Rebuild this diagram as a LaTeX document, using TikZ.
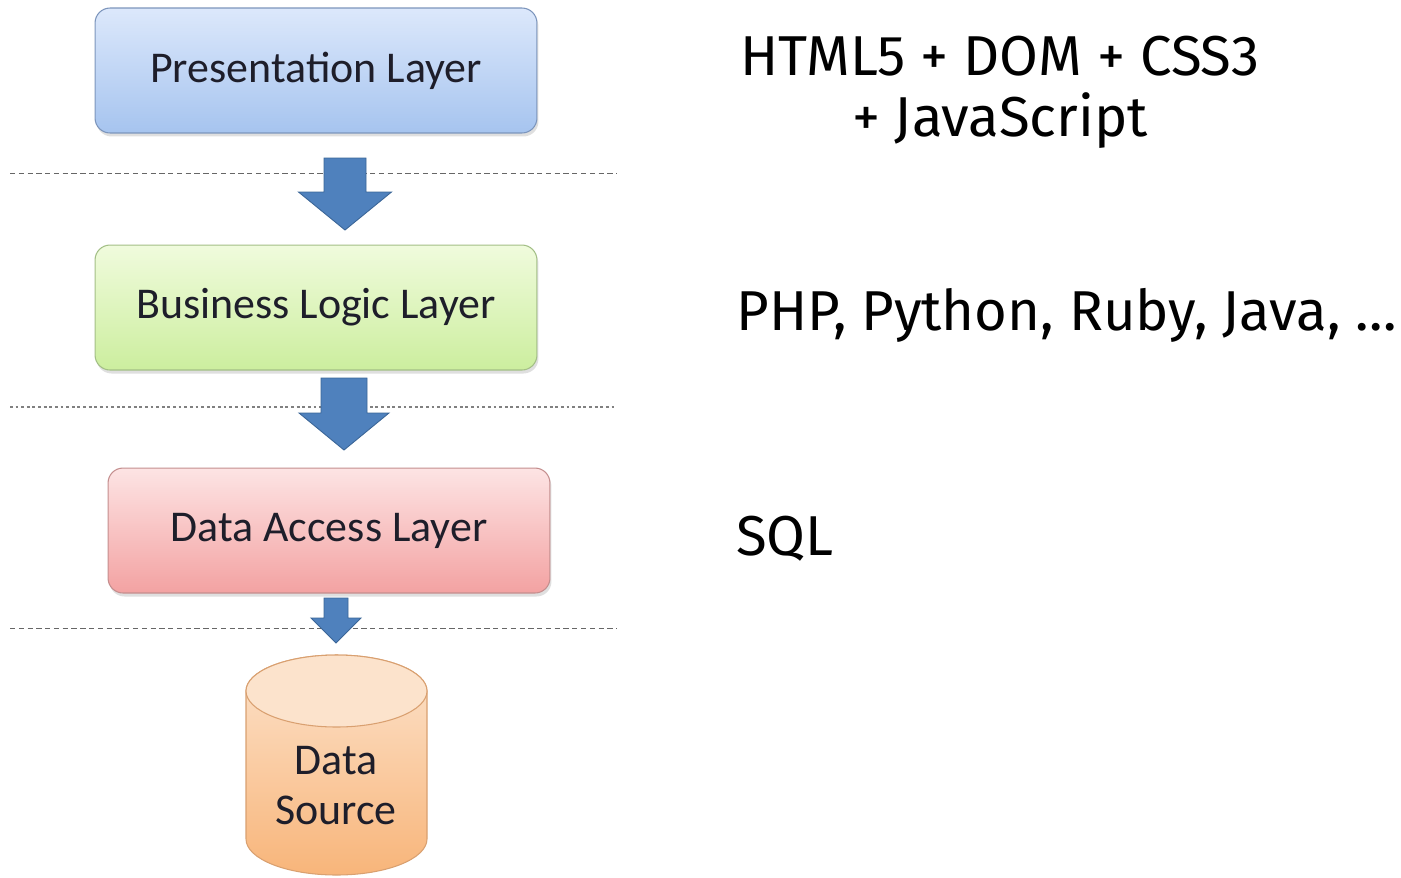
\documentclass[tikz,border=0pt]{standalone}
\usepackage{fontspec}
\setmainfont{Fira Sans}
\newfontfamily\boxfont{Carlito}
\usepackage{tikz}
\usetikzlibrary{positioning,shadows}

\definecolor{arrowblue}{HTML}{4F81BD}
\definecolor{arrowedge}{HTML}{3A6597}
\definecolor{boxtext}{HTML}{1E1E2A}
\definecolor{prestop}{HTML}{DCE8FB}
\definecolor{presbot}{HTML}{A6C4EF}
\definecolor{presedge}{HTML}{7C95BC}
\definecolor{biztop}{HTML}{F0FBDD}
\definecolor{bizbot}{HTML}{CCEE9E}
\definecolor{bizedge}{HTML}{A3BF86}
\definecolor{daltop}{HTML}{FDE4E4}
\definecolor{dalbot}{HTML}{F3A2A2}
\definecolor{daledge}{HTML}{C48E8E}
\definecolor{dstop}{HTML}{FCE3CC}
\definecolor{dsbot}{HTML}{F8B57A}
\definecolor{dsedge}{HTML}{D9A070}

\tikzset{
  layer/.style={rounded corners=0.3cm, minimum width=8.84cm, minimum height=2.5cm,
    font=\boxfont\fontsize{25}{30}\selectfont, text=boxtext, line width=0.6pt,
    drop shadow={opacity=0.25, shadow xshift=0.03cm, shadow yshift=-0.07cm}},
  presbox/.style={layer, draw=presedge, top color=prestop, bottom color=presbot},
  bizbox/.style={layer, draw=bizedge, top color=biztop, bottom color=bizbot},
  databox/.style={layer, draw=daledge, top color=daltop, bottom color=dalbot},
  tier/.style={draw=black!60, line width=0.5pt, dash pattern=on 3pt off 2pt},
  tierdot/.style={draw=black!50, line width=0.6pt, dash pattern=on 1.6pt off 1.6pt},
  bigarrow/.style={fill=arrowblue, draw=arrowedge, line width=0.5pt, line join=miter},
  tech/.style={font=\fontsize{32}{34.7}\selectfont, inner sep=0pt}
}

% x, shaft top, head base, tip, shaft half width, head half width (px)
\newcommand{\blockarrow}[6]{%
  \draw[bigarrow] (#1-#5,-#2) -- (#1+#5,-#2) -- (#1+#5,-#3) -- (#1+#6,-#3)
    -- (#1,-#4) -- (#1-#6,-#3) -- (#1-#5,-#3) -- cycle;}

\begin{document}
\begin{tikzpicture}[x=0.02cm,y=0.02cm]
  \useasboundingbox (0,0) rectangle (1401,-877);

  % tiers
  \node[presbox]                              (pres) at (316,-70.5) {Presentation Layer};
  \node[bizbox]    [below=2.22cm of pres]     (biz)  {Business Logic Layer};
  \node[databox]   [below=1.94cm of biz, xshift=0.26cm] (dal) {Data Access Layer};

  % separators
  \draw[tier]    (10,-173) -- (617,-173);
  \draw[tierdot] (10,-407) -- (617,-407);
  \draw[tier]    (10,-628) -- (617,-628);

  % arrows
  \blockarrow{345}{158}{192}{230}{21}{46.5}
  \blockarrow{344}{378}{413}{450}{23}{45}
  \blockarrow{336}{598}{618}{643}{12}{25}

  % data source
  \draw[draw=dsedge, line width=0.6pt, top color=dstop, bottom color=dsbot]
    (246,-691) -- (246,-839) arc (180:360:90.5 and 36) -- (427,-691) arc (0:180:90.5 and 36) -- cycle;
  \draw[draw=dsedge, line width=0.6pt, fill=dstop] (336.5,-691) ellipse (90.5 and 36);
  \node[font=\boxfont\fontsize{25}{28.5}\selectfont, text=boxtext, align=center] (ds) at (336,-786) {Data\\Source};

  % technologies
  \node[tech, align=center] (web)  at (1000,-92) {HTML5 + DOM + CSS3\\+ JavaScript};
  \node[tech, anchor=base west] (lang) at (736,-330) {PHP, Python, Ruby, Java, \dots};
  \node[tech, anchor=base west] (sql)  at (736,-555) {SQL};
\end{tikzpicture}
\end{document}
